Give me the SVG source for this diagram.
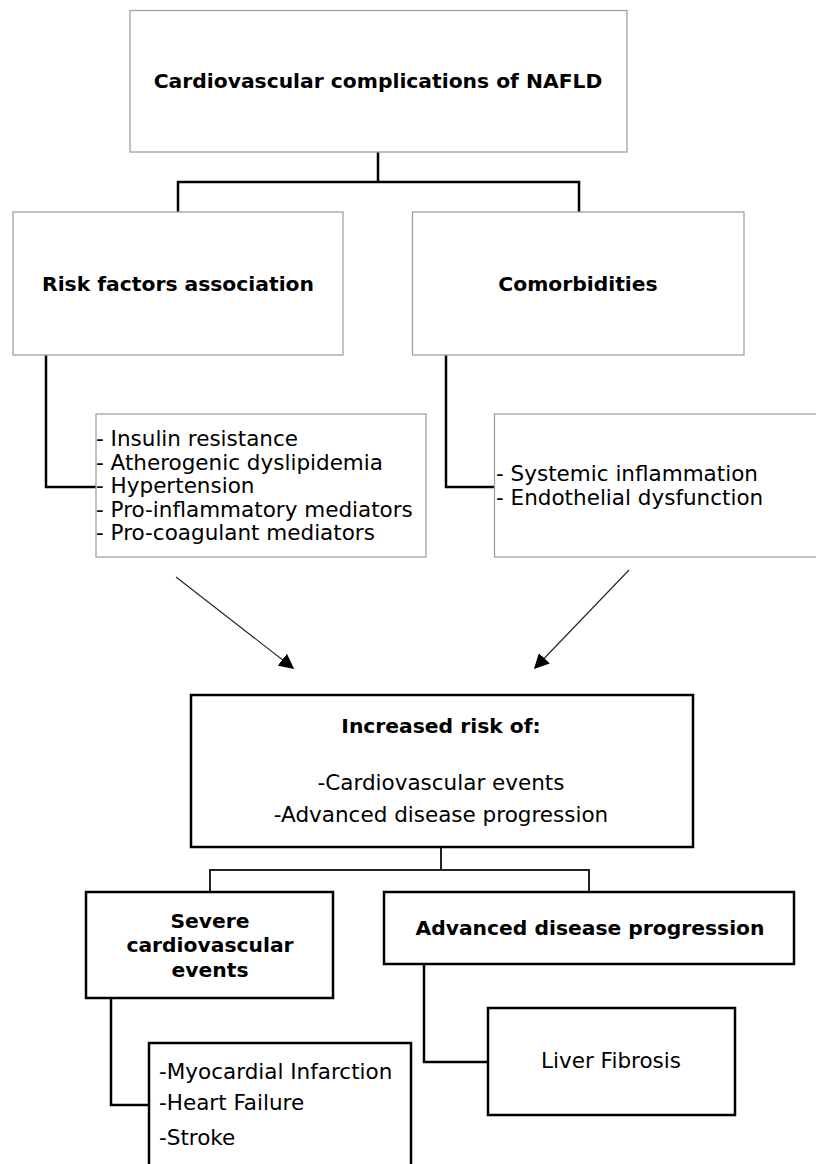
<svg xmlns="http://www.w3.org/2000/svg" width="816" height="1164" viewBox="0 0 816 1164">
<style>
.lt{fill:#fff;stroke:#a0a0a0;stroke-width:1.3}
.bk{fill:#fff;stroke:#000;stroke-width:2.5}
.b{font-family:"DejaVu Sans",sans-serif;font-weight:bold;font-size:20.3px;fill:#000}
.r{font-family:"DejaVu Sans",sans-serif;font-size:21.5px;fill:#000}
.c{text-anchor:middle}
.ln{fill:none;stroke:#000;stroke-width:2.5}
.ar{fill:none;stroke:#222;stroke-width:1.1}
</style>
<defs>
<marker id="ah" viewBox="0 0 10 10" refX="9" refY="5" markerWidth="15" markerHeight="15" markerUnits="userSpaceOnUse" orient="auto">
<path d="M0,0 L10,5 L0,10 Z" fill="#000"/>
</marker>
</defs>
<rect width="816" height="1164" fill="#fff"/>
<g id="connectors">
<path class="ln" d="M378,152 V182 M178,212 V182 H579 V212"/>
<path class="ln" d="M46,355 V487 H96"/>
<path class="ln" d="M446,355 V487 H494"/>
<line class="ar" x1="176" y1="577" x2="293" y2="668" marker-end="url(#ah)"/>
<line class="ar" x1="629" y1="570" x2="535" y2="668" marker-end="url(#ah)"/>
<path class="ln" style="stroke:#222;stroke-width:2" d="M441,847 V870 M210,892 V870 H589 V892"/>
<path class="ln" d="M111,998 V1105 H149"/>
<path class="ln" d="M424,964 V1062 H488"/>
</g>
<g id="title">
<rect class="lt" x="130" y="10.5" width="497" height="141.5"/>
<text class="b c" x="378" y="88">Cardiovascular complications of NAFLD</text>
</g>
<g id="risk">
<rect class="lt" x="13" y="212" width="330" height="143"/>
<text class="b c" x="178" y="291">Risk factors association</text>
</g>
<g id="comorb">
<rect class="lt" x="412.5" y="212" width="331.5" height="143"/>
<text class="b c" x="578" y="291">Comorbidities</text>
</g>
<g id="risklist">
<rect class="lt" x="96" y="414" width="330" height="143"/>
<text class="r" x="96" y="446">- Insulin resistance</text>
<text class="r" x="96" y="469.5">- Atherogenic dyslipidemia</text>
<text class="r" x="96" y="493">- Hypertension</text>
<text class="r" x="96" y="516.5">- Pro-inflammatory mediators</text>
<text class="r" x="96" y="540">- Pro-coagulant mediators</text>
</g>
<g id="comorblist">
<rect class="lt" x="494.5" y="414" width="330" height="143"/>
<text class="r" x="496" y="481">- Systemic inflammation</text>
<text class="r" x="496" y="504.5">- Endothelial dysfunction</text>
</g>
<g id="increased">
<rect class="bk" x="191" y="695" width="502" height="152"/>
<text class="b c" x="441" y="733">Increased risk of:</text>
<text class="r c" x="441" y="790">-Cardiovascular events</text>
<text class="r c" x="441" y="822">-Advanced disease progression</text>
</g>
<g id="severe">
<rect class="bk" x="86" y="892" width="247" height="106"/>
<text class="b c" x="210" y="928">Severe</text>
<text class="b c" x="210" y="952">cardiovascular</text>
<text class="b c" x="210" y="977">events</text>
</g>
<g id="advanced">
<rect class="bk" x="384" y="892" width="410" height="72"/>
<text class="b c" x="590" y="935">Advanced disease progression</text>
</g>
<g id="events">
<rect class="bk" x="149" y="1043" width="262" height="140"/>
<text class="r" x="159" y="1079">-Myocardial Infarction</text>
<text class="r" x="159" y="1110">-Heart Failure</text>
<text class="r" x="159" y="1145">-Stroke</text>
</g>
<g id="liver">
<rect class="bk" x="488" y="1008" width="247" height="107"/>
<text class="r c" x="611" y="1068">Liver Fibrosis</text>
</g>
</svg>
